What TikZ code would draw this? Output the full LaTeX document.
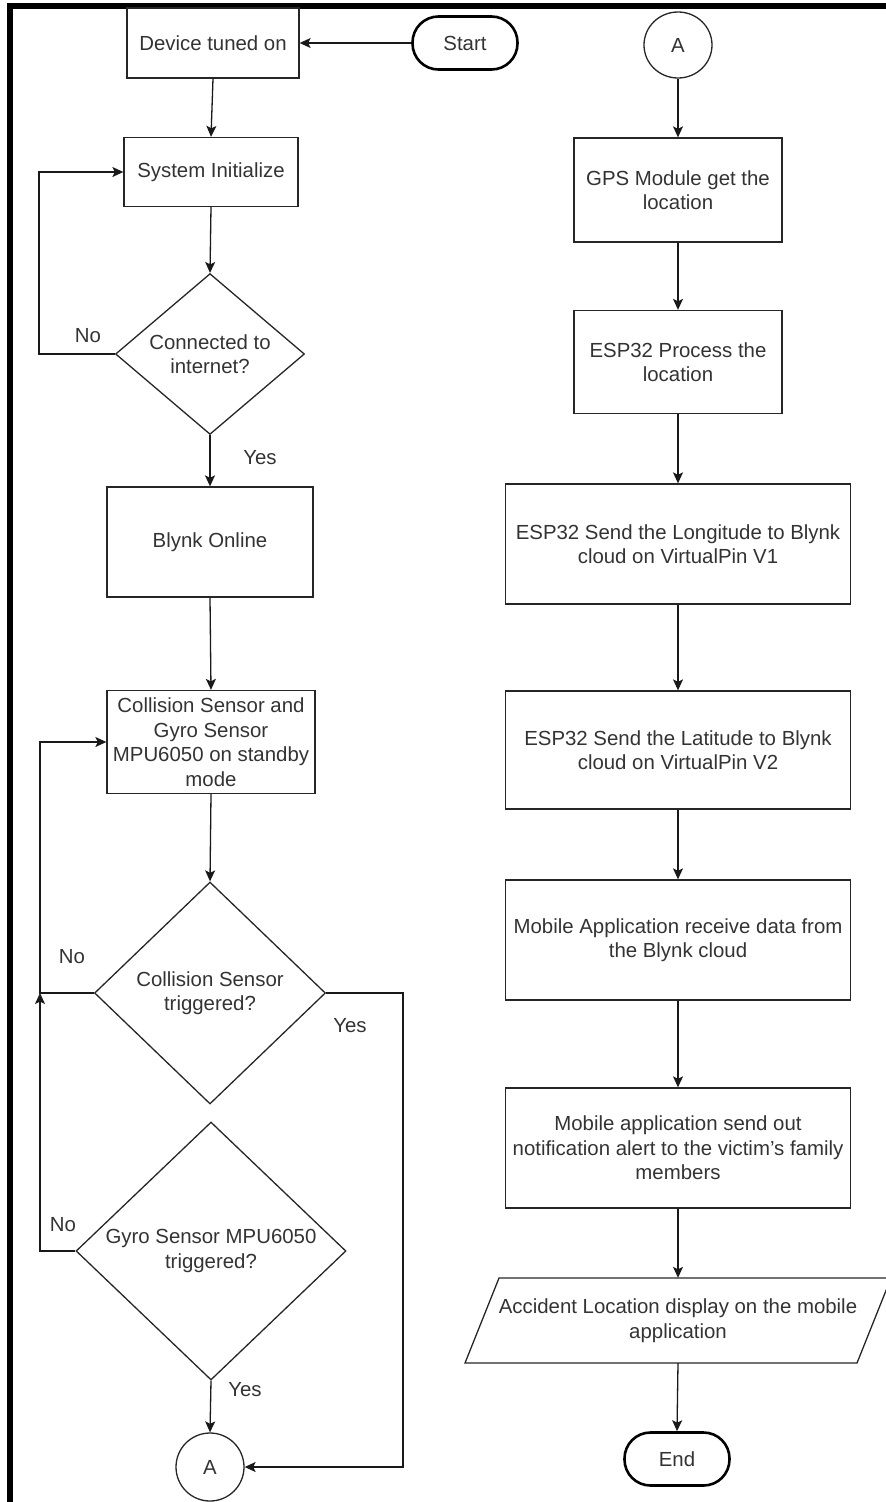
\documentclass[tikz,border=0pt]{standalone}
\usepackage{fontspec}
\setmainfont{Liberation Sans}
\usetikzlibrary{arrows.meta,shapes.geometric}
\begin{document}
\begin{tikzpicture}[x=1pt,y=-1pt,
  every node/.style={font=\fontsize{20.4}{24.5}\selectfont, text=black!80},
  box/.style={draw=black!85, line width=1.3pt, rectangle, align=center, inner sep=1pt},
  dia/.style={draw=black!85, line width=1.3pt, diamond, align=center, inner sep=0pt},
  term/.style={draw=black, line width=2.6pt, rectangle, rounded corners=26pt, align=center, inner sep=1pt, minimum width=105pt, minimum height=53pt},
  conn/.style={draw=black!85, line width=1.3pt, ellipse, inner sep=0pt},
  lbl/.style={inner sep=0pt},
  arr/.style={draw=black!90, line width=1.3pt, -{Stealth[length=11pt,width=10pt,inset=2.5pt]}},
  ln/.style={draw=black!90, line width=1.3pt}]
\useasboundingbox (0,0) rectangle (886,1502);
% frame
\fill[black] (7,3) rectangle (886,9);
\fill[black] (7,3) rectangle (13,1502);

% left column
\node[box, minimum width=172pt, minimum height=70pt] (dev) at (213,43) {Device tuned on};
\node[term] (start) at (465,43) {Start};
\node[box, minimum width=174pt, minimum height=69pt] (sys) at (211,172) {System Initialize};
\node[dia, minimum width=189pt, minimum height=154pt] (d1) at (210,354) {Connected to\\internet?};
\node[box, minimum width=206pt, minimum height=110pt] (blynk) at (210,542) {Blynk Online};
\node[box, minimum width=208pt, minimum height=103pt] (coll) at (211,742) {Collision Sensor and\\Gyro Sensor\\MPU6050 on standby\\mode};
\node[dia, minimum width=231pt, minimum height=222pt] (d2) at (210,993) {Collision Sensor\\triggered?};
\node[dia, minimum width=270pt, minimum height=258pt] (d3) at (211,1251) {Gyro Sensor MPU6050\\triggered?};
\node[conn, minimum width=68pt, minimum height=68pt] (a2) at (210,1467) {A};

% right column
\node[conn, minimum width=68pt, minimum height=66pt] (a1) at (678,45) {A};
\node[box, minimum width=208pt, minimum height=104pt] (gps) at (678,190) {GPS Module get the\\location};
\node[box, minimum width=208pt, minimum height=103pt] (proc) at (678,362) {ESP32 Process the\\location};
\node[box, minimum width=345pt, minimum height=120pt] (lon) at (678,544) {ESP32 Send the Longitude to Blynk\\cloud on VirtualPin V1};
\node[box, minimum width=345pt, minimum height=118pt] (lat) at (678,750) {ESP32 Send the Latitude to Blynk\\cloud on VirtualPin V2};
\node[box, minimum width=345pt, minimum height=120pt] (recv) at (678,940) {Mobile Application receive data from\\the Blynk cloud};
\node[box, minimum width=345pt, minimum height=120pt] (send) at (678,1148) {Mobile application send out\\notification alert to the victim\char"0027 s family\\members};
\draw[draw=black!85, line width=1.3pt] (465,1363) -- (499,1278) -- (891,1278) -- (857,1363) -- cycle;
\node[align=center, minimum width=392pt, minimum height=85pt, inner sep=0pt] (par) at (678,1320.5) {Accident Location display on the mobile\\application};
\node[term] (end) at (677,1459) {End};

% labels
\node[lbl] (no1) at (88,336) {No};
\node[lbl] (yes1) at (260,458) {Yes};
\node[lbl] (no2) at (72,957) {No};
\node[lbl] (yes2) at (350,1026) {Yes};
\node[lbl] (no3) at (63,1225) {No};
\node[lbl] (yes3) at (245,1390) {Yes};

% connectors left
\coordinate (jn) at (40,993);
\coordinate (rx) at (403,1467);
\draw[arr] (start.west) -- (dev.east);
\draw[arr] (dev.south) -- (sys.north);
\draw[arr] (sys.south) -- (d1.north);
\draw[arr] (d1.west) -- ++(-76,0) |- (sys.west);
\draw[arr] (d1.south) -- (blynk.north);
\draw[arr] (blynk.south) -- (coll.north);
\draw[arr] (coll.south) -- (d2.north);
\draw[arr] (d2.west) -- (jn) |- (coll.west);
\draw[arr] (d3.west) -| (jn);
\draw[arr] (d2.east) -| (rx) -- (a2.east);
\draw[arr] (d3.south) -- (a2.north);

% connectors right
\draw[arr] (a1.south) -- (gps.north);
\draw[arr] (gps.south) -- (proc.north);
\draw[arr] (proc.south) -- (lon.north);
\draw[arr] (lon.south) -- (lat.north);
\draw[arr] (lat.south) -- (recv.north);
\draw[arr] (recv.south) -- (send.north);
\draw[arr] (send.south) -- (par.north);
\draw[arr] (par.south) -- (end.north);
\end{tikzpicture}
\end{document}
